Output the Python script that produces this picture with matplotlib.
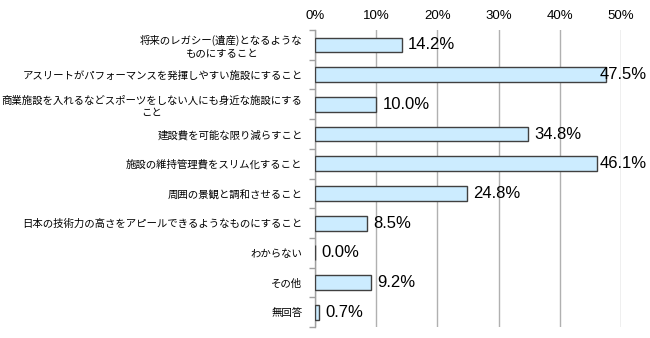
import numpy as np
import matplotlib.pyplot as plt
from matplotlib.ticker import FixedLocator

plt.rcParams['font.family'] = ['Noto Sans CJK JP', 'DejaVu Sans']

categories = [
    '将来のレガシー(遺産)となるような\nものにすること',
    'アスリートがパフォーマンスを発揮しやすい施設にすること',
    '商業施設を入れるなどスポーツをしない人にも身近な施設にする\nこと',
    '建設費を可能な限り減らすこと',
    '施設の維持管理費をスリム化すること',
    '周囲の景観と調和させること',
    '日本の技術力の高さをアピールできるようなものにすること',
    'わからない',
    'その他',
    '無回答',
]
values = [14.2, 47.5, 10.0, 34.8, 46.1, 24.8, 8.5, 0.0, 9.2, 0.7]
xticks = [0, 10, 20, 30, 40, 50]

fig = plt.figure(figsize=(6.5, 3.38), dpi=100)
ax = fig.add_axes([0.4846, 0.0325, 0.4708, 0.8785])

y = np.arange(len(categories))
ax.barh(y, values, height=0.5, color='#CCECFF', edgecolor='#404040', linewidth=1.0, zorder=3)

# labels sit just right of the bar, pulled back in when they'd run off the figure
for yi, v in zip(y, values):
    ax.text(min(v + 1.0, 46.5), yi, f'{v:.1f}%', va='center', ha='left', fontsize=12,
            family='Liberation Sans', zorder=4)

ax.set_xlim(0, 50)
ax.set_ylim(len(categories) - 0.5, -0.5)
ax.set_xticks(xticks)
ax.set_xticklabels([f'{t}%' for t in xticks], fontsize=9.5, family='Liberation Sans')
ax.xaxis.tick_top()
ax.tick_params(axis='x', length=0, pad=6)
ax.grid(axis='x', color='#B0B0B0', linewidth=1.0, zorder=0)

ax.set_yticks(y)
ax.set_yticklabels(categories, fontsize=7.5, linespacing=1.3)
ax.tick_params(axis='y', which='major', length=0, pad=9)
ax.yaxis.set_minor_locator(FixedLocator(np.arange(-0.5, len(categories), 1.0)))
ax.tick_params(axis='y', which='minor', length=4, color='#A0A0A0', width=1.0)
for lbl in ax.get_yticklabels():
    lbl.set_multialignment('center')

for s in ['top', 'right', 'bottom']:
    ax.spines[s].set_visible(False)
ax.spines['left'].set_color('#A0A0A0')
ax.spines['left'].set_linewidth(1.0)

fig.savefig('out.png', dpi=100)
